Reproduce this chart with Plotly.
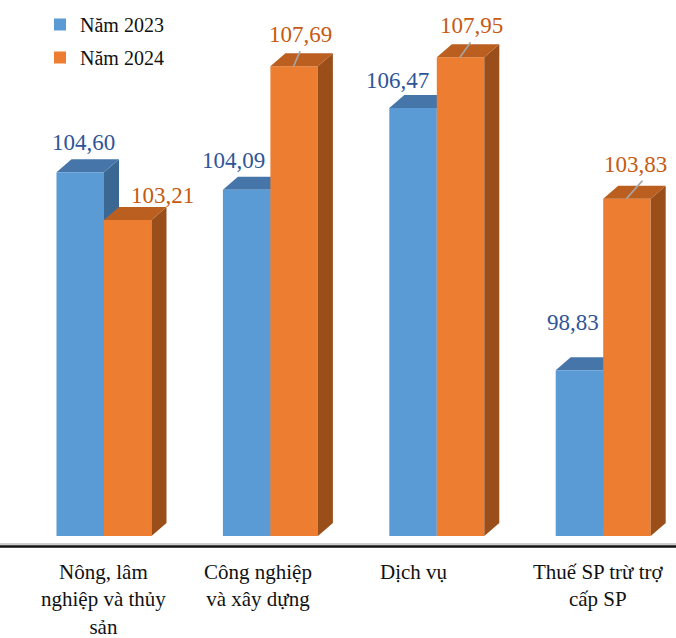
import plotly.graph_objects as go

# ---- data ----
categories = [
    "Nông, lâm<br>nghiệp và thủy<br>sản",
    "Công nghiệp<br>và xây dựng",
    "Dịch vụ",
    "Thuế SP trừ trợ<br>cấp SP",
]
series_names = ["Năm 2023", "Năm 2024"]
values_2023 = [104.60, 104.09, 106.47, 98.83]
values_2024 = [103.21, 107.69, 107.95, 103.83]

# ---- layout constants ----
W, H = 676, 638
MARGIN_B = 102
PLOT_W, PLOT_H = W, H - MARGIN_B
Y_FLOOR = 94.0
PX_PER_Y = 34.32
PX_PER_X = 166.4
X_RANGE = [-104 / PX_PER_X, (W - 104) / PX_PER_X]
Y_RANGE = [Y_FLOOR, Y_FLOOR + PLOT_H / PX_PER_Y]

BAR_W = 47.5 / PX_PER_X
DEPTH_X = 15 / PX_PER_X
DEPTH_Y = 13 / PX_PER_Y

FONT = "Times New Roman, Liberation Serif, DejaVu Serif, serif"

styles = [
    dict(front="#5B9BD5", top="#4675A9", side="#3B6793", label="#2F5597"),
    dict(front="#ED7D31", top="#BA5F20", side="#9A4F1B", label="#C55A11"),
]
# label offsets in px (x, up) from the top-front centre of each bar
label_offsets = [
    [(3.5, 30), (-13, 29.5), (-16, 28), (-6.5, 48)],
    [(35, 24.5), (6, 32), (11, 32), (9, 34)],
]
# leader lines for some of the 2024 labels, in px (dx, up)
leaders_2024 = [None, (6, 15), (10, 15), (15.5, 18)]
# horizontal nudges (px) for the category captions
caption_shift = [-1, -12.5, -22.5, -5]


def fmt(v):
    return f"{v:.2f}".replace(".", ",")


def paper_y(px):
    """Convert a page pixel row to paper y (plot area spans rows 0..PLOT_H)."""
    return (PLOT_H - px) / PLOT_H


fig = go.Figure()
shapes = []
annotations = []

for s, (name, vals) in enumerate(zip(series_names, [values_2023, values_2024])):
    st = styles[s]
    centers = [i + (s - 0.5) * BAR_W for i in range(len(vals))]
    fig.add_trace(go.Bar(
        x=centers, y=vals, width=BAR_W, name=name,
        marker=dict(color=st["front"], line=dict(width=0)),
        legendgroup=name, hoverinfo="skip",
    ))
    layer = "below" if s == 0 else "above"
    for i, (xc, v) in enumerate(zip(centers, vals)):
        xl, xr = xc - BAR_W / 2, xc + BAR_W / 2
        top_path = (f"M{xl},{v} L{xl + DEPTH_X},{v + DEPTH_Y} "
                    f"L{xr + DEPTH_X},{v + DEPTH_Y} L{xr},{v} Z")
        side_path = (f"M{xr},{Y_FLOOR} L{xr},{v} L{xr + DEPTH_X},{v + DEPTH_Y} "
                     f"L{xr + DEPTH_X},{Y_FLOOR + DEPTH_Y} Z")
        shapes.append(dict(type="path", path=side_path, xref="x", yref="y",
                           fillcolor=st["side"], line=dict(width=0), layer=layer))
        shapes.append(dict(type="path", path=top_path, xref="x", yref="y",
                           fillcolor=st["top"], line=dict(width=0), layer=layer))
        ox, oy = label_offsets[s][i]
        annotations.append(dict(
            x=xc, y=v, xref="x", yref="y", text=fmt(v), showarrow=False,
            xshift=ox, yshift=oy, xanchor="center", yanchor="middle",
            font=dict(family=FONT, size=23, color=st["label"]),
        ))
        if s == 1 and leaders_2024[i] is not None:
            ldx, ldy = leaders_2024[i]
            shapes.append(dict(
                type="line", xref="x", yref="y",
                x0=xc - 0.5 / PX_PER_X, y0=v,
                x1=xc + ldx / PX_PER_X, y1=v + ldy / PX_PER_Y,
                line=dict(color="#A6A6A6", width=1.6), layer="above",
            ))

# category captions under the axis line
for i, cat in enumerate(categories):
    annotations.append(dict(
        x=i, y=paper_y(558), xref="x", yref="paper",
        text=cat, showarrow=False, xshift=caption_shift[i],
        xanchor="center", yanchor="top", align="center",
        font=dict(family=FONT, size=21, color="#111111"),
    ))

# horizontal axis line
shapes.append(dict(type="line", xref="paper", yref="paper", x0=0, x1=1,
                   y0=paper_y(544), y1=paper_y(544),
                   line=dict(color="#9A9A9A", width=1), layer="above"))
shapes.append(dict(type="line", xref="paper", yref="paper", x0=0, x1=1,
                   y0=paper_y(546.5), y1=paper_y(546.5),
                   line=dict(color="#111111", width=2.6), layer="above"))

fig.update_layout(
    width=W, height=H,
    margin=dict(l=0, r=0, t=0, b=MARGIN_B),
    paper_bgcolor="white", plot_bgcolor="white",
    barmode="overlay",
    showlegend=True,
    font=dict(family=FONT),
    legend=dict(x=40 / W, y=paper_y(5), xanchor="left", yanchor="top",
                font=dict(family=FONT, size=20, color="#111111"),
                bgcolor="rgba(0,0,0,0)", tracegroupgap=4),
    xaxis=dict(range=X_RANGE, visible=False, fixedrange=True),
    yaxis=dict(range=Y_RANGE, visible=False, fixedrange=True),
    shapes=shapes,
    annotations=annotations,
)

fig.write_html("out.html")
